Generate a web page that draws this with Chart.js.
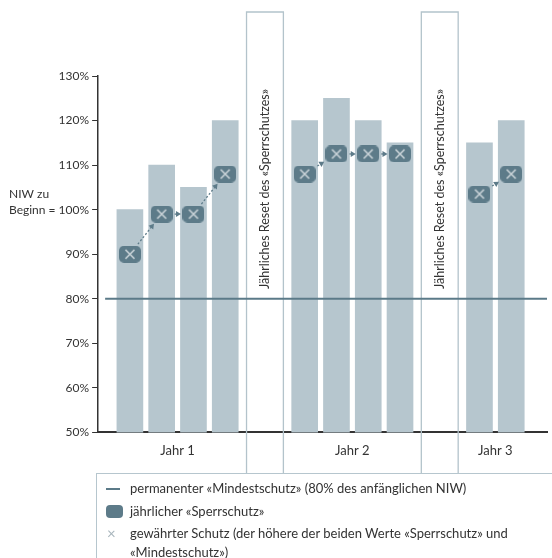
<!DOCTYPE html>
<html>
<head>
<meta charset="utf-8">
<script src="https://cdn.jsdelivr.net/npm/chart.js@4"></script>
<style>
  body { margin: 0; background: #fff; }
  #wrap { position: relative; width: 552px; height: 558px; font-family: Lato, sans-serif; color: #333; }
  #box { position: absolute; left: 0; top: 0; width: 552px; height: 474px; }
  #legend { position: absolute; left: 96px; top: 473px; right: 0; bottom: 0;
            border-left: 1px solid #b6c6ce; border-top: 1px solid #b6c6ce; font-size: 13px; }
  .row { position: absolute; left: 33px; line-height: 19px; white-space: nowrap; }
  .ico { position: absolute; }
</style>
</head>
<body>
<div id="wrap">
  <div id="box"><canvas id="myChart"></canvas></div>
  <div id="legend">
    <div class="ico" style="left:9px; top:14px; width:14px; height:2px; background:#5b7a88;"></div>
    <div class="row" style="top:5px;">permanenter «Mindestschutz» (80% des anfänglichen NIW)</div>
    <div class="ico" style="left:9px; top:31px; width:17px; height:13px; border-radius:4px; background:#5d7b89;"></div>
    <div class="row" style="top:28px;">jährlicher «Sperrschutz»</div>
    <div class="ico" style="left:10px; top:50px; color:#a9b6bd; font-size:15px; line-height:19px;">×</div>
    <div class="row" style="top:50px;">gewährter Schutz (der höhere der beiden Werte «Sperrschutz» und<br>«Mindestschutz»)</div>
  </div>
</div>
<script>
'use strict';

// data
let yearLabels = ['Jahr 1', 'Jahr 2', 'Jahr 3'];
let barsPerYear = [4, 4, 2];
let niwValues = [100, 110, 105, 120, 120, 125, 120, 115, 115, 120];
let lockValues = [90, 99, 99, 108, 108, 112.5, 112.5, 112.5, 103.5, 108];
let minProtection = 80;
let resetText = 'Jährliches Reset des «Sperrschutzes»';
let yTicks = [50, 60, 70, 80, 90, 100, 110, 120, 130];

let barColor = '#b6c6ce';
let markColor = '#5d7b89';
let textColor = '#333333';

// slot positions: one slot per bar, a wider slot for each reset
let resetSlot = 1.5;
let xPos = [];
let yearCenters = [];
let resetCenters = [];
let yearIndex = [];
let pos = 0;
for (let g = 0; g < barsPerYear.length; g++) {
    let first = pos;
    for (let b = 0; b < barsPerYear[g]; b++) {
        xPos.push(pos);
        yearIndex.push(g);
        pos++;
    }
    yearCenters.push((first + pos - 1) / 2);
    if (g < barsPerYear.length - 1) {
        resetCenters.push(pos - 0.5 + resetSlot / 2);
        pos += resetSlot;
    }
}

// marker image: rounded square with a cross
function makeMarker() {
    let c = document.createElement('canvas');
    c.width = 22; c.height = 17;
    let g = c.getContext('2d');
    g.fillStyle = markColor;
    g.beginPath();
    g.roundRect(0, 0, 22, 17, 5);
    g.fill();
    g.strokeStyle = '#c9d3d8';
    g.lineWidth = 1.7;
    g.beginPath();
    g.moveTo(6.5, 4); g.lineTo(15.5, 13);
    g.moveTo(15.5, 4); g.lineTo(6.5, 13);
    g.stroke();
    return c;
}
let markerImg = makeMarker();

let extras = {
    id: 'extras',
    afterDraw(chart) {
        let ctx = chart.ctx;
        let xs = chart.scales.x;
        let ys = chart.scales.y;
        let area = chart.chartArea;
        ctx.save();

        // reset columns
        for (let i = 0; i < resetCenters.length; i++) {
            let l = xs.getPixelForValue(resetCenters[i] - 0.58);
            let r = xs.getPixelForValue(resetCenters[i] + 0.58);
            ctx.strokeStyle = '#b3c3cb';
            ctx.lineWidth = 1.3;
            ctx.beginPath();
            ctx.moveTo(l, chart.height);
            ctx.lineTo(l, 12);
            ctx.lineTo(r, 12);
            ctx.lineTo(r, chart.height);
            ctx.stroke();
            ctx.save();
            ctx.translate((l + r) / 2, 189);
            ctx.rotate(-Math.PI / 2);
            ctx.fillStyle = textColor;
            ctx.font = '12.5px Lato';
            ctx.textAlign = 'center';
            ctx.textBaseline = 'middle';
            ctx.fillText(resetText, 0, 0);
            ctx.restore();
        }

        // permanent minimum protection line
        let y80 = ys.getPixelForValue(minProtection);
        ctx.strokeStyle = '#5b7a88';
        ctx.lineWidth = 2;
        ctx.beginPath();
        ctx.moveTo(area.left + 7, y80);
        ctx.lineTo(area.right, y80);
        ctx.stroke();

        // dotted arrows between markers of the same year
        let meta = chart.getDatasetMeta(1);
        let hw = 11, hh = 8.5;
        for (let i = 0; i < lockValues.length - 1; i++) {
            if (yearIndex[i] !== yearIndex[i + 1]) continue;
            let a = meta.data[i], b = meta.data[i + 1];
            let dx = b.x - a.x, dy = b.y - a.y;
            let len = Math.sqrt(dx * dx + dy * dy);
            let ux = dx / len, uy = dy / len;
            let t = Math.min(ux ? hw / Math.abs(ux) : 999, uy ? hh / Math.abs(uy) : 999);
            let sx = a.x + ux * (t + 2), sy = a.y + uy * (t + 2);
            let ex = b.x - ux * (t + 1.5), ey = b.y - uy * (t + 1.5);
            ctx.strokeStyle = markColor;
            ctx.fillStyle = markColor;
            ctx.lineWidth = 1.3;
            ctx.setLineDash([2, 2]);
            ctx.beginPath();
            ctx.moveTo(sx, sy);
            ctx.lineTo(ex - ux * 4, ey - uy * 4);
            ctx.stroke();
            ctx.setLineDash([]);
            ctx.beginPath();
            ctx.moveTo(ex, ey);
            ctx.lineTo(ex - ux * 5 - uy * 3, ey - uy * 5 + ux * 3);
            ctx.lineTo(ex - ux * 5 + uy * 3, ey - uy * 5 - ux * 3);
            ctx.closePath();
            ctx.fill();
        }

        // "NIW zu" above the 100% label
        ctx.font = '12px Lato';
        let labRight = ys.right - ys.options.grid.tickLength - ys.options.ticks.padding;
        let w = ctx.measureText('Beginn = 100%').width;
        ctx.fillStyle = textColor;
        ctx.textAlign = 'left';
        ctx.textBaseline = 'middle';
        ctx.fillText('NIW zu', labRight - w, ys.getPixelForValue(100) - 16);
        ctx.restore();
    }
};

let ctx = document.getElementById('myChart').getContext('2d');
let chart = new Chart(ctx, {
    type: 'bar',
    data: {
        datasets: [{
            label: 'NIW',
            data: xPos.map((x, i) => ({ x: x, y: niwValues[i] })),
            backgroundColor: barColor,
            barThickness: 26,
            order: 2
        }, {
            type: 'line',
            label: 'Sperrschutz',
            data: xPos.map((x, i) => ({ x: x, y: lockValues[i] })),
            showLine: false,
            pointStyle: markerImg,
            order: 1
        }]
    },
    plugins: [extras],
    options: {
        responsive: true,
        maintainAspectRatio: false,
        animation: false,
        layout: { padding: { top: 76, left: 6, right: 4, bottom: 4 } },
        plugins: { legend: { display: false }, tooltip: { enabled: false } },
        scales: {
            x: {
                type: 'linear',
                offset: false,
                min: -1,
                max: 13.125,
                afterBuildTicks: axis => { axis.ticks = yearCenters.map(v => ({ value: v })); },
                ticks: {
                    color: textColor,
                    font: { family: 'Lato', size: 13 },
                    padding: 11,
                    callback: (v) => yearLabels[yearCenters.indexOf(v)]
                },
                grid: { display: false, drawTicks: false },
                border: { display: true, color: '#333', width: 2 }
            },
            y: {
                min: 50,
                max: 130,
                afterBuildTicks: axis => { axis.ticks = yTicks.map(v => ({ value: v })); },
                ticks: {
                    color: textColor,
                    font: { family: 'Lato', size: 12 },
                    padding: 3,
                    callback: v => v === 100 ? 'Beginn = 100%' : v + '%'
                },
                grid: { drawOnChartArea: false, tickLength: 6, color: '#333' },
                border: { display: true, color: '#333', width: 1.5 }
            }
        }
    }
});
</script>
</body>
</html>
